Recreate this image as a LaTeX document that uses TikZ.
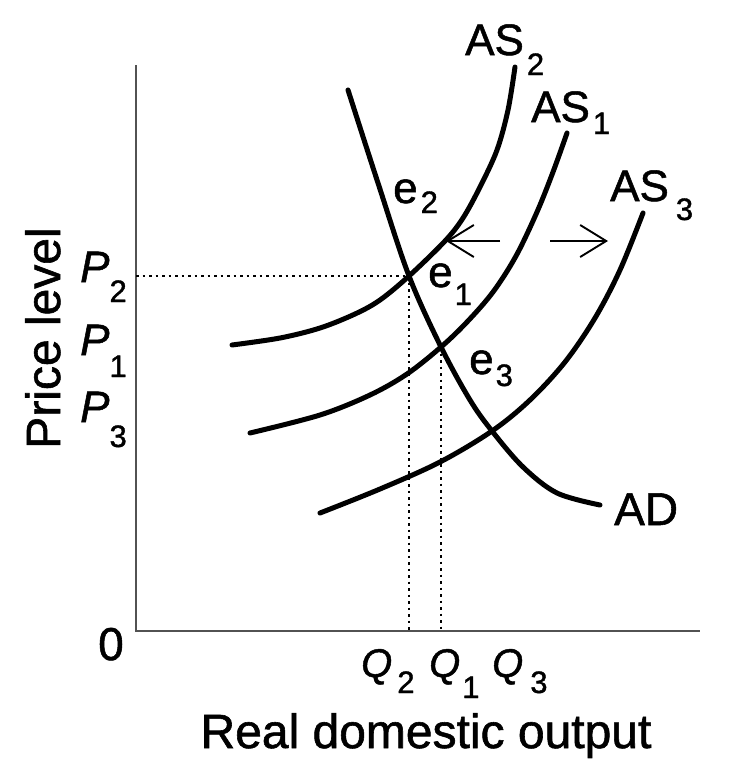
\documentclass[tikz,border=0pt]{standalone}
\usepackage{fontspec}
\setmainfont{Liberation Sans}[FakeBold=1.2]
\usetikzlibrary{arrows.meta}
\newcommand\lbsub[2]{\raisebox{#1}{\fontsize{31}{31}\selectfont #2}}
\begin{document}
\begin{tikzpicture}[x=1pt,y=-1pt,
  curve/.style={line width=5pt, line cap=round, line join=round},
  axis/.style={line width=2.6pt, draw=black!68},
  guide/.style={line width=2.5pt, dash pattern=on 2.5pt off 4pt},
  shiftarrow/.style={line width=1.9pt, -{Straight Barb[length=26pt,width=32pt,line width=1.9pt]}},
  lbl/.style={inner sep=0pt, anchor=base west, font=\fontsize{44}{44}\selectfont},
  qlbl/.style={inner sep=0pt, anchor=base west, font=\fontsize{40}{40}\selectfont},
  axlbl/.style={inner sep=0pt, font=\fontsize{48}{48}\selectfont},
]
\useasboundingbox (0,0) rectangle (731,774);
\fill[white] (0,0) rectangle (731,774);

% axes
\coordinate (O) at (136,631);
\coordinate (ytop) at (136,65);
\coordinate (xend) at (700,631);
\draw[axis] (ytop) -- (O) -- (xend);

% equilibrium points
\coordinate (e2pt) at (409,276);
\coordinate (e1pt) at (441,347);
\coordinate (e3pt) at (492,431);
\coordinate (P2pt) at (136,276);
\coordinate (Q2pt) at (409,631);
\coordinate (Q1pt) at (441,631);

% guides
\draw[guide] (P2pt) -- (e2pt) -- (Q2pt);
\draw[guide] (e1pt) -- (Q1pt);

% curves
\draw[curve] plot[smooth, tension=0.55] coordinates {(348,90) (378,183) (409,276) (441,347) (470,400) (492,431) (523,467) (557,493) (600,505)};
\draw[curve] plot[smooth, tension=0.55] coordinates {(232,345) (280,338) (320,328) (355,314) (380,300) (409,276) (445,241) (463,218) (480,187) (497,150) (508,110) (515,67)};
\draw[curve] plot[smooth, tension=0.55] coordinates {(250,433) (320,415) (370,395) (407,374) (441,347) (467,322) (493,292) (516,256) (537,212) (553,172) (567,133)};
\draw[curve] plot[smooth, tension=0.55] coordinates {(320,513) (380,489) (440,462) (492,431) (530,400) (565,362) (595,318) (620,270) (643,213)};

% shift arrows
\coordinate (a1s) at (500,241);
\coordinate (a1e) at (446,241);
\coordinate (a2s) at (550,241);
\coordinate (a2e) at (608,241);
\draw[shiftarrow] (a1s) -- (a1e);
\draw[shiftarrow] (a2s) -- (a2e);

% curve labels
\node[lbl] (AS2) at (465,55) {AS\hspace{3pt}\lbsub{-20pt}{2}};
\node[lbl] (AS1) at (531,122) {AS\hspace{3pt}\lbsub{-12pt}{1}};
\node[lbl] (AS3) at (610,201) {AS\hspace{7pt}\lbsub{-19pt}{3}};
\node[lbl, font=\fontsize{46}{46}\selectfont] (AD) at (614,525) {AD};

% equilibrium labels
\node[lbl] (e2) at (393,203) {e\hspace{3pt}\lbsub{-10pt}{2}};
\node[lbl] (e1) at (428,287) {e\hspace{2pt}\lbsub{-18pt}{1}};
\node[lbl] (e3) at (469,374) {e\hspace{2pt}\lbsub{-12pt}{3}};

% price labels
\node[lbl] (P2) at (80,282) {\textit{P}\lbsub{-20pt}{2}};
\node[lbl] (P1) at (80,355) {\textit{P}\lbsub{-22pt}{1}};
\node[lbl] (P3) at (80,422) {\textit{P}\lbsub{-25pt}{3}};

% quantity labels
\node[qlbl] (Q2) at (361,677) {\textit{Q}\hspace{5pt}\lbsub{-16pt}{2}};
\node[qlbl] (Q1) at (429,677) {\textit{Q}\hspace{2pt}\lbsub{-21pt}{1}};
\node[qlbl] (Q3) at (492,677) {\textit{Q}\hspace{7pt}\lbsub{-16pt}{3}};

% origin and axis titles
\node[lbl, font=\fontsize{46}{46}\selectfont] (zero) at (98,660) {0};
\node[axlbl, anchor=base, rotate=90] (ylab) at (60,338) {Price level};
\node[axlbl, anchor=base] (xlab) at (426,748) {Real domestic output};
\end{tikzpicture}
\end{document}
